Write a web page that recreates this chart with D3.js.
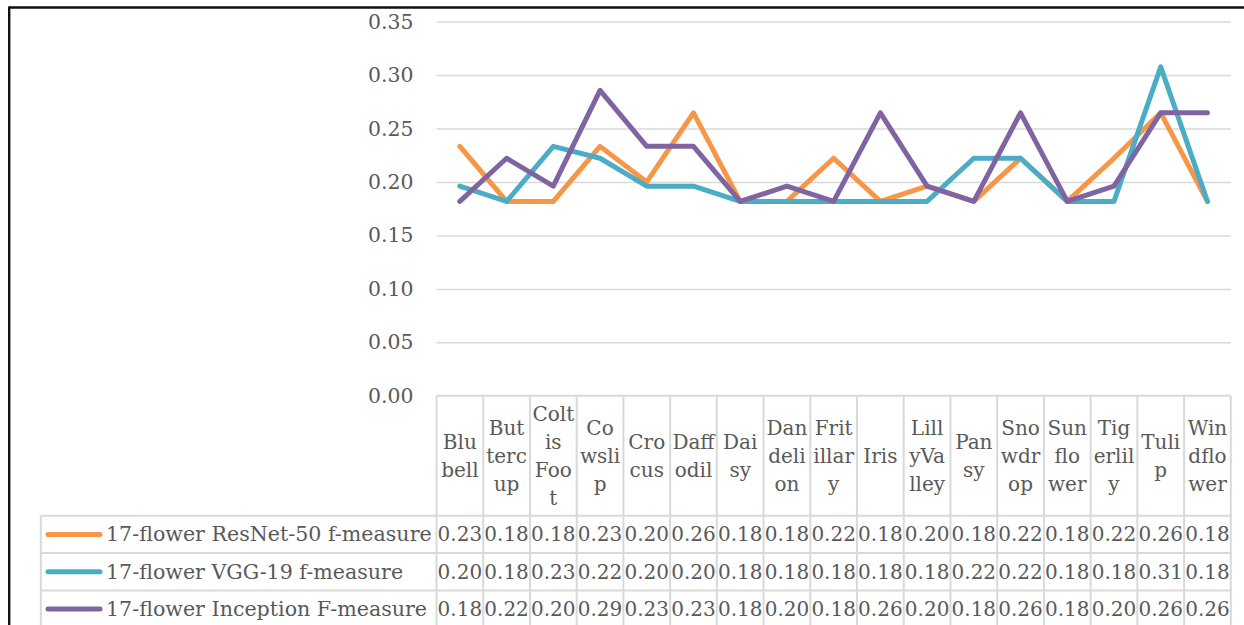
<!DOCTYPE html>
<html>
<head>
<meta charset="utf-8">
<script src="https://cdn.jsdelivr.net/npm/d3@7"></script>
<style>
  html, body { margin: 0; padding: 0; background: #fff; }
  svg { display: block; }
  text { font-family: "DejaVu Serif", serif; fill: #595959; }
</style>
</head>
<body>
<svg id="chart" width="1244" height="625"></svg>
<script>
// Per-class f-measure on the 17-flower dataset
const categories = ["Bluebell", "Buttercup", "ColtisFoot", "Cowslip", "Crocus", "Daffodil", "Daisy",
  "Dandelion", "Fritillary", "Iris", "LillyValley", "Pansy", "Snowdrop", "Sunflower", "Tigerlily", "Tulip", "Windflower"];

// Wrapped header lines for the data-table cells
const categoryLines = [
  ["Blu", "bell"], ["But", "terc", "up"], ["Colt", "is", "Foo", "t"], ["Co", "wsli", "p"], ["Cro", "cus"],
  ["Daff", "odil"], ["Dai", "sy"], ["Dan", "deli", "on"], ["Frit", "illar", "y"], ["Iris"],
  ["Lill", "yVa", "lley"], ["Pan", "sy"], ["Sno", "wdr", "op"], ["Sun", "flo", "wer"], ["Tig", "erlil", "y"],
  ["Tuli", "p"], ["Win", "dflo", "wer"]
];

const seriesNames = ["17-flower ResNet-50 f-measure", "17-flower VGG-19 f-measure", "17-flower Inception F-measure"];

const resnet50 = [0.2333, 0.1818, 0.1818, 0.2333, 0.2000, 0.2647, 0.1818, 0.1818, 0.2222, 0.1818, 0.1961, 0.1818, 0.2222, 0.1818, 0.2222, 0.2647, 0.1818];
const vgg19 = [0.1961, 0.1818, 0.2333, 0.2222, 0.1961, 0.1961, 0.1818, 0.1818, 0.1818, 0.1818, 0.1818, 0.2222, 0.2222, 0.1818, 0.1818, 0.3077, 0.1818];
const inception = [0.1818, 0.2222, 0.1961, 0.2857, 0.2333, 0.2333, 0.1818, 0.1961, 0.1818, 0.2647, 0.1961, 0.1818, 0.2647, 0.1818, 0.1961, 0.2647, 0.2647];

const yTicks = [0, 0.05, 0.10, 0.15, 0.20, 0.25, 0.30, 0.35];
const seriesColors = ["#F79646", "#4BACC6", "#8064A2"];

const series = [resnet50, vgg19, inception].map((values, i) => ({ name: seriesNames[i], values, color: seriesColors[i] }));

const svg = d3.select("#chart");
const fmt = d3.format(".2f");

const x = d3.scaleBand().domain(categories).range([436.5, 1230.8]).paddingInner(0).paddingOuter(0);
const y = d3.scaleLinear().domain([0, 0.35]).range([395.8, 21.6]);

// outer frame (top and left edges)
svg.append("line").attr("x1", 9).attr("x2", 1244).attr("y1", 7.5).attr("y2", 7.5)
  .attr("stroke", "#111").attr("stroke-width", 2.4);
svg.append("line").attr("x1", 9.2).attr("x2", 9.2).attr("y1", 6.5).attr("y2", 625)
  .attr("stroke", "#111").attr("stroke-width", 2.4);

// gridlines + value axis
const yAxis = d3.axisLeft(y).tickValues(yTicks).tickFormat(fmt).tickSize(-(x.range()[1] - x.range()[0])).tickPadding(23);
const gy = svg.append("g").attr("transform", `translate(${x.range()[0]},0)`).call(yAxis);
gy.select(".domain").remove();
gy.selectAll(".tick line").attr("stroke", "#d9d9d9").attr("stroke-width", 1.5)
  .filter(d => d === 0).remove();
gy.selectAll(".tick text").attr("font-size", 20.4).attr("fill", "#595959")
  .attr("font-family", "'DejaVu Serif', serif");

// series lines
const line = d3.line()
  .x((d, i) => x(categories[i]) + x.bandwidth() / 2)
  .y(d => y(d));

svg.append("g").selectAll("path").data(series).join("path")
  .attr("d", d => line(d.values))
  .attr("fill", "none")
  .attr("stroke", d => d.color)
  .attr("stroke-width", 5)
  .attr("stroke-linecap", "round")
  .attr("stroke-linejoin", "round");

// data table
const gridColor = "#d9d9d9";
const tableTop = y(0);
const headerBottom = 515.8;
const rowH = 37.3;
const legendLeft = 40.8;
const xLeft = x.range()[0], xRight = x.range()[1];
const nRows = series.length;
const tableBottom = headerBottom + rowH * nRows;

const tbl = svg.append("g");

// horizontal rules
tbl.append("line").attr("x1", xLeft).attr("x2", xRight).attr("y1", tableTop).attr("y2", tableTop)
  .attr("stroke", gridColor).attr("stroke-width", 2);
d3.range(nRows + 1).forEach(r => {
  const yy = headerBottom + r * rowH;
  tbl.append("line").attr("x1", legendLeft).attr("x2", xRight).attr("y1", yy).attr("y2", yy)
    .attr("stroke", gridColor).attr("stroke-width", 2);
});
// vertical rules
categories.forEach(c => {
  tbl.append("line").attr("x1", x(c)).attr("x2", x(c)).attr("y1", tableTop).attr("y2", tableBottom)
    .attr("stroke", gridColor).attr("stroke-width", 2);
});
tbl.append("line").attr("x1", xRight).attr("x2", xRight).attr("y1", tableTop).attr("y2", tableBottom)
  .attr("stroke", gridColor).attr("stroke-width", 2);
tbl.append("line").attr("x1", legendLeft).attr("x2", legendLeft).attr("y1", headerBottom).attr("y2", tableBottom)
  .attr("stroke", gridColor).attr("stroke-width", 2);

// category header cells
const lineGap = 28;
const headerMid = (tableTop + headerBottom) / 2;
categories.forEach((c, i) => {
  const lines = categoryLines[i];
  const t = tbl.append("text")
    .attr("text-anchor", "middle")
    .attr("font-size", 20);
  lines.forEach((ln, k) => {
    t.append("tspan")
      .attr("x", x(c) + x.bandwidth() / 2)
      .attr("y", headerMid + (k - (lines.length - 1) / 2) * lineGap + 7)
      .text(ln);
  });
});

// series rows: legend key, name, values
series.forEach((s, r) => {
  const cy = headerBottom + r * rowH + rowH / 2;
  tbl.append("line").attr("x1", 48).attr("x2", 100).attr("y1", cy).attr("y2", cy)
    .attr("stroke", s.color).attr("stroke-width", 5).attr("stroke-linecap", "round");
  tbl.append("text").attr("x", 106).attr("y", cy + 7).attr("font-size", 20.6).text(s.name);
  s.values.forEach((v, i) => {
    tbl.append("text")
      .attr("x", x(categories[i]) + x.bandwidth() / 2)
      .attr("y", cy + 7)
      .attr("text-anchor", "middle")
      .attr("font-size", 20)
      .text(fmt(v));
  });
});
</script>
</body>
</html>
